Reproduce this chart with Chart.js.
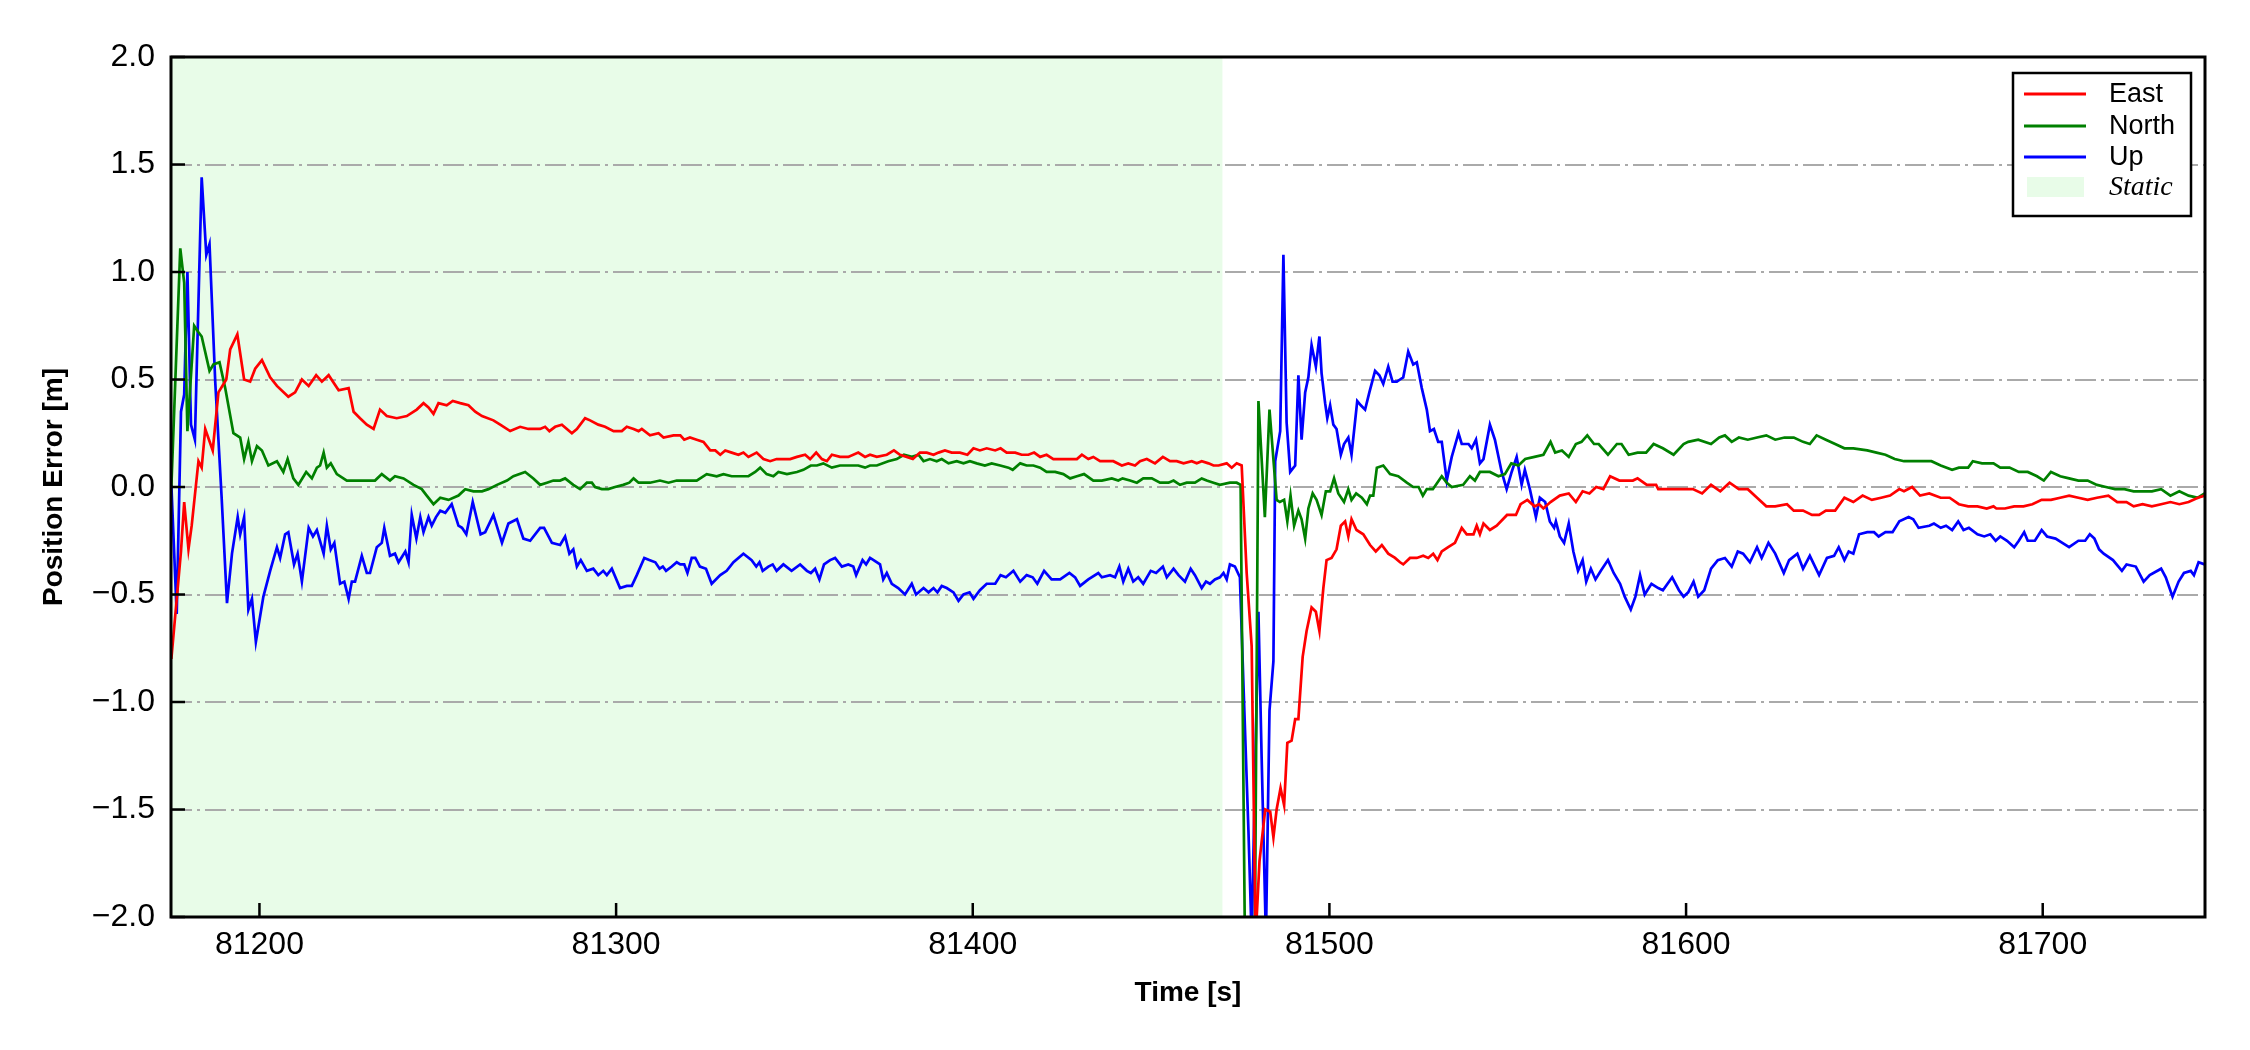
<!DOCTYPE html>
<html lang="en">
<head>
    <meta charset="UTF-8">
    <title>Position Error</title>
    <script src="https://cdn.jsdelivr.net/npm/chart.js"></script>
    <style>
        html, body { margin: 0; padding: 0; background: #fff; }
    </style>
</head>
<body>
    <canvas id="errChart" width="2250" height="1050"></canvas>

    <script>
        // axis setup
        const xTicks = [81200, 81300, 81400, 81500, 81600, 81700];
        const yTicks = [-2.0, -1.5, -1.0, -0.5, 0.0, 0.5, 1.0, 1.5, 2.0];
        const xRange = [81175.2, 81745.5];
        const staticSpan = [81175.2, 81470.0];
        const seriesNames = ['East', 'North', 'Up'];
        const seriesColors = ['#ff0000', '#008000', '#0000ff'];

        // [time s, error m]
        const eastPts = [
            [81175.3,-0.80],[81178.0,-0.30],[81178.9,-0.07],[81180.1,-0.29],[81181.0,-0.18],[81182.9,0.12],[81183.8,0.09],[81184.8,0.27],
            [81186.9,0.17],[81188.5,0.44],[81190.7,0.50],[81191.8,0.64],[81193.8,0.71],[81195.7,0.50],[81197.4,0.49],[81198.8,0.55],
            [81200.7,0.59],[81203.0,0.51],[81204.9,0.47],[81208.1,0.42],[81210.0,0.44],[81211.9,0.50],[81213.8,0.47],[81215.9,0.52],
            [81217.5,0.49],[81219.4,0.52],[81222.2,0.45],[81225.0,0.46],[81226.4,0.35],[81228.2,0.32],[81230.1,0.29],[81232.0,0.27],
            [81233.8,0.36],[81235.7,0.33],[81238.5,0.32],[81241.3,0.33],[81244.1,0.36],[81246.0,0.39],[81247.4,0.37],[81248.8,0.34],
            [81250.2,0.39],[81252.5,0.38],[81254.2,0.40],[81256.3,0.39],[81258.6,0.38],[81260.5,0.35],[81262.4,0.33],[81265.6,0.31],
            [81267.5,0.29],[81270.3,0.26],[81273.1,0.28],[81275.4,0.27],[81278.7,0.27],[81280.1,0.28],[81281.3,0.26],[81282.9,0.28],
            [81284.8,0.29],[81286.2,0.27],[81287.6,0.25],[81289.0,0.27],[81291.3,0.32],[81292.7,0.31],[81295.0,0.29],[81296.9,0.28],
            [81299.3,0.26],[81301.6,0.26],[81303.0,0.28],[81304.9,0.27],[81306.3,0.26],[81307.2,0.27],[81309.5,0.24],[81311.9,0.25],
            [81313.3,0.23],[81316.1,0.24],[81318.0,0.24],[81319.1,0.22],[81320.7,0.23],[81322.6,0.22],[81324.5,0.21],[81326.4,0.17],
            [81327.8,0.17],[81329.2,0.15],[81330.6,0.17],[81332.4,0.16],[81334.3,0.15],[81335.7,0.16],[81337.1,0.14],[81339.4,0.16],
            [81341.3,0.13],[81343.2,0.12],[81345.0,0.13],[81346.9,0.13],[81348.8,0.13],[81350.7,0.14],[81353.0,0.15],[81354.4,0.13],
            [81356.1,0.16],[81357.7,0.13],[81359.1,0.12],[81360.5,0.15],[81362.8,0.14],[81365.1,0.14],[81367.9,0.16],[81369.8,0.14],
            [81371.2,0.15],[81373.1,0.14],[81375.9,0.15],[81377.9,0.17],[81379.6,0.15],[81381.5,0.14],[81383.2,0.13],[81385.2,0.16],
            [81387.1,0.16],[81389.0,0.15],[81390.4,0.16],[81392.2,0.17],[81394.1,0.16],[81396.4,0.16],[81398.5,0.15],[81400.2,0.18],
            [81402.0,0.17],[81403.9,0.18],[81406.3,0.17],[81407.8,0.18],[81409.5,0.16],[81411.9,0.16],[81413.7,0.15],[81415.6,0.15],
            [81417.2,0.16],[81418.9,0.14],[81420.7,0.15],[81422.6,0.13],[81424.5,0.13],[81426.8,0.13],[81429.2,0.13],[81430.6,0.15],
            [81432.4,0.13],[81433.8,0.14],[81435.7,0.12],[81437.6,0.12],[81439.4,0.12],[81441.8,0.10],[81443.6,0.11],[81445.5,0.10],
            [81446.9,0.12],[81448.8,0.13],[81451.1,0.11],[81453.3,0.14],[81455.3,0.12],[81457.2,0.12],[81459.1,0.11],[81461.4,0.12],
            [81462.8,0.11],[81464.2,0.12],[81466.1,0.11],[81467.5,0.10],[81468.9,0.10],[81471.2,0.11],[81472.6,0.09],[81474.0,0.11],
            [81475.4,0.10],[81476.8,-0.40],[81478.2,-0.74],[81479.3,-2.10],[81480.4,-1.74],[81482.0,-1.50],[81483.4,-1.51],[81484.3,-1.63],
            [81485.2,-1.50],[81486.3,-1.40],[81487.3,-1.48],[81488.2,-1.19],[81489.4,-1.18],[81490.4,-1.08],[81491.3,-1.08],[81492.5,-0.79],
            [81493.6,-0.67],[81495.0,-0.56],[81496.2,-0.58],[81497.2,-0.67],[81498.3,-0.47],[81499.2,-0.34],[81500.6,-0.33],[81502.0,-0.29],
            [81503.2,-0.18],[81504.4,-0.16],[81505.3,-0.23],[81506.2,-0.15],[81507.6,-0.20],[81509.5,-0.22],[81511.4,-0.27],[81513.0,-0.30],
            [81514.7,-0.27],[81516.5,-0.31],[81518.4,-0.33],[81519.8,-0.35],[81520.7,-0.36],[81522.6,-0.33],[81524.5,-0.33],[81526.3,-0.32],
            [81527.7,-0.33],[81529.1,-0.31],[81530.3,-0.34],[81531.5,-0.30],[81533.3,-0.28],[81535.2,-0.26],[81537.1,-0.19],[81538.5,-0.22],
            [81540.4,-0.22],[81541.3,-0.18],[81542.2,-0.22],[81543.2,-0.17],[81545.0,-0.20],[81546.9,-0.18],[81549.8,-0.13],[81552.3,-0.13],
            [81553.6,-0.08],[81555.5,-0.06],[81557.5,-0.09],[81558.8,-0.08],[81560.0,-0.10],[81562.0,-0.07],[81564.6,-0.04],[81567.1,-0.03],
            [81569.1,-0.07],[81571.0,-0.02],[81572.9,-0.03],[81574.8,0.00],[81576.8,-0.01],[81578.7,0.05],[81581.3,0.03],[81583.2,0.03],
            [81585.1,0.03],[81586.4,0.04],[81589.0,0.01],[81591.6,0.01],[81592.2,-0.01],[81595.4,-0.01],[81599.3,-0.01],[81601.9,-0.01],
            [81604.5,-0.03],[81607.0,0.01],[81609.6,-0.02],[81612.2,0.02],[81614.8,-0.01],[81617.3,-0.01],[81619.9,-0.05],[81622.5,-0.09],
            [81625.0,-0.09],[81628.3,-0.08],[81630.2,-0.11],[81632.8,-0.11],[81635.3,-0.13],[81637.3,-0.13],[81639.2,-0.11],[81641.8,-0.11],
            [81644.4,-0.05],[81646.9,-0.07],[81649.5,-0.04],[81652.1,-0.06],[81654.7,-0.05],[81657.2,-0.04],[81659.8,-0.01],[81661.1,-0.02],
            [81663.4,0.00],[81665.6,-0.04],[81668.2,-0.03],[81671.4,-0.05],[81673.9,-0.05],[81676.5,-0.08],[81679.1,-0.09],[81681.7,-0.09],
            [81684.3,-0.10],[81686.2,-0.09],[81687.0,-0.10],[81689.4,-0.10],[81692.0,-0.09],[81694.6,-0.09],[81697.1,-0.08],[81699.7,-0.06],
            [81702.3,-0.06],[81704.9,-0.05],[81707.4,-0.04],[81710.0,-0.05],[81712.6,-0.06],[81715.2,-0.05],[81718.4,-0.04],[81720.9,-0.07],
            [81723.5,-0.07],[81725.5,-0.09],[81728.0,-0.08],[81730.6,-0.09],[81733.2,-0.08],[81735.8,-0.07],[81738.3,-0.08],[81740.9,-0.07],
            [81743.5,-0.05],[81745.4,-0.04]
        ];

        const northPts = [
            [81175.3,0.00],[81176.4,0.49],[81177.8,1.11],[81178.9,0.95],[81179.8,0.26],[81181.7,0.75],[81182.9,0.72],[81183.8,0.70],
            [81186.0,0.54],[81187.1,0.57],[81188.8,0.58],[81190.4,0.46],[81192.7,0.25],[81194.6,0.23],[81195.7,0.13],[81196.9,0.21],
            [81197.9,0.12],[81199.3,0.19],[81200.7,0.17],[81202.5,0.10],[81204.9,0.12],[81206.7,0.07],[81207.9,0.13],[81209.5,0.04],
            [81210.9,0.01],[81213.1,0.07],[81214.7,0.04],[81216.1,0.09],[81217.0,0.10],[81218.0,0.16],[81218.9,0.09],[81220.0,0.11],
            [81221.7,0.06],[81224.5,0.03],[81226.4,0.03],[81228.2,0.03],[81230.1,0.03],[81232.4,0.03],[81234.3,0.06],[81236.6,0.03],
            [81238.0,0.05],[81240.4,0.04],[81243.2,0.01],[81245.5,-0.01],[81246.9,-0.04],[81248.8,-0.08],[81250.7,-0.05],[81253.0,-0.06],
            [81255.8,-0.04],[81257.7,-0.01],[81260.0,-0.02],[81262.4,-0.02],[81264.2,-0.01],[81266.6,0.01],[81269.4,0.03],[81271.2,0.05],
            [81274.5,0.07],[81276.8,0.04],[81278.7,0.01],[81280.6,0.02],[81282.4,0.03],[81284.3,0.03],[81285.7,0.04],[81288.0,0.01],
            [81289.9,-0.01],[81291.8,0.02],[81293.2,0.02],[81294.1,0.00],[81296.0,-0.01],[81297.8,-0.01],[81299.7,0.00],[81302.0,0.01],
            [81303.7,0.02],[81304.9,0.04],[81306.3,0.02],[81309.5,0.02],[81312.3,0.03],[81314.7,0.02],[81317.0,0.03],[81319.8,0.03],
            [81322.6,0.03],[81325.4,0.06],[81328.2,0.05],[81330.1,0.06],[81332.4,0.05],[81334.8,0.05],[81337.1,0.05],[81339.0,0.07],
            [81340.4,0.09],[81342.2,0.06],[81344.1,0.05],[81345.5,0.07],[81347.9,0.06],[81350.7,0.07],[81352.5,0.08],[81354.6,0.10],
            [81356.3,0.10],[81358.1,0.11],[81360.5,0.09],[81362.8,0.10],[81365.6,0.10],[81367.9,0.10],[81369.8,0.09],[81371.2,0.10],
            [81373.1,0.10],[81376.3,0.12],[81378.7,0.13],[81380.7,0.15],[81382.9,0.14],[81384.8,0.15],[81386.2,0.12],[81388.0,0.13],
            [81389.9,0.12],[81391.3,0.13],[81393.2,0.11],[81395.5,0.12],[81397.4,0.11],[81399.2,0.12],[81401.1,0.11],[81403.4,0.10],
            [81405.3,0.11],[81407.7,0.10],[81410.0,0.09],[81411.2,0.08],[81413.3,0.11],[81415.1,0.10],[81417.0,0.10],[81418.9,0.09],
            [81420.7,0.07],[81423.1,0.07],[81425.4,0.06],[81427.3,0.04],[81429.2,0.05],[81431.2,0.06],[81433.8,0.03],[81436.2,0.03],
            [81439.0,0.04],[81440.8,0.03],[81442.0,0.04],[81444.1,0.03],[81446.0,0.02],[81447.8,0.04],[81450.2,0.04],[81452.5,0.02],
            [81454.9,0.02],[81456.3,0.03],[81458.1,0.01],[81460.0,0.02],[81462.3,0.02],[81464.2,0.04],[81465.6,0.03],[81467.5,0.02],
            [81469.3,0.01],[81472.1,0.02],[81474.0,0.02],[81475.1,0.01],[81476.3,-2.10],[81479.1,-2.10],[81480.1,0.40],[81481.9,-0.14],
            [81483.2,0.36],[81485.2,-0.06],[81486.1,-0.07],[81487.3,-0.06],[81488.2,-0.16],[81489.1,-0.04],[81490.1,-0.18],[81491.3,-0.11],
            [81492.2,-0.15],[81493.2,-0.24],[81494.1,-0.10],[81495.3,-0.03],[81496.4,-0.06],[81497.8,-0.13],[81499.0,-0.02],[81500.2,-0.02],
            [81501.3,0.04],[81502.5,-0.03],[81504.1,-0.07],[81505.3,-0.01],[81506.2,-0.06],[81507.5,-0.03],[81509.1,-0.05],[81510.5,-0.08],
            [81511.4,-0.04],[81512.3,-0.04],[81513.3,0.09],[81515.1,0.10],[81517.0,0.06],[81519.3,0.05],[81521.7,0.02],[81523.5,0.00],
            [81525.0,0.00],[81526.2,-0.04],[81527.3,-0.01],[81529.0,-0.01],[81531.5,0.05],[81532.9,0.02],[81534.3,0.00],[81537.5,0.01],
            [81539.4,0.05],[81540.8,0.03],[81542.2,0.07],[81545.0,0.07],[81547.4,0.05],[81549.2,0.06],[81551.0,0.11],[81553.0,0.10],
            [81554.9,0.13],[81557.5,0.14],[81560.0,0.15],[81562.0,0.21],[81563.3,0.16],[81565.2,0.17],[81567.1,0.14],[81569.1,0.20],
            [81570.7,0.21],[81572.3,0.24],[81574.2,0.20],[81575.5,0.20],[81578.1,0.15],[81580.6,0.20],[81581.9,0.20],[81583.9,0.15],
            [81586.4,0.16],[81588.8,0.16],[81590.9,0.20],[81593.5,0.18],[81596.5,0.15],[81599.3,0.20],[81600.6,0.21],[81603.4,0.22],
            [81607.0,0.20],[81609.3,0.23],[81610.9,0.24],[81612.8,0.21],[81614.8,0.23],[81617.3,0.22],[81619.9,0.23],[81622.5,0.24],
            [81625.0,0.22],[81627.6,0.23],[81630.2,0.23],[81632.8,0.21],[81634.7,0.20],[81636.6,0.24],[81639.2,0.22],[81641.8,0.20],
            [81644.4,0.18],[81646.9,0.18],[81650.8,0.17],[81653.4,0.16],[81655.9,0.15],[81658.5,0.13],[81661.1,0.12],[81663.7,0.12],
            [81666.2,0.12],[81668.8,0.12],[81671.4,0.10],[81674.6,0.08],[81676.5,0.09],[81679.1,0.09],[81680.4,0.12],[81683.0,0.11],
            [81686.2,0.11],[81688.1,0.09],[81690.7,0.09],[81693.3,0.07],[81695.8,0.07],[81698.4,0.05],[81700.3,0.03],[81702.3,0.07],
            [81704.9,0.05],[81707.4,0.04],[81710.0,0.03],[81712.6,0.03],[81715.2,0.01],[81717.7,0.00],[81720.3,-0.01],[81722.9,-0.01],
            [81725.5,-0.02],[81728.0,-0.02],[81730.6,-0.02],[81733.2,-0.01],[81735.8,-0.04],[81738.3,-0.02],[81740.9,-0.04],[81743.5,-0.05],
            [81745.4,-0.03]
        ];

        const upPts = [
            [81175.3,0.01],[81176.8,-0.59],[81178.0,0.35],[81178.9,0.43],[81179.8,1.00],[81180.8,0.29],[81181.9,0.22],[81183.8,1.44],
            [81185.1,1.08],[81186.0,1.13],[81187.6,0.49],[81189.4,-0.05],[81190.9,-0.54],[81192.3,-0.31],[81193.9,-0.14],[81194.6,-0.22],
            [81195.7,-0.14],[81196.9,-0.57],[81197.9,-0.52],[81199.0,-0.72],[81201.1,-0.51],[81203.0,-0.39],[81204.9,-0.28],[81205.8,-0.33],
            [81207.2,-0.22],[81208.1,-0.21],[81209.7,-0.36],[81210.7,-0.31],[81211.9,-0.44],[81213.8,-0.19],[81215.0,-0.23],[81216.1,-0.20],
            [81218.0,-0.31],[81218.9,-0.18],[81220.0,-0.29],[81221.0,-0.26],[81222.6,-0.45],[81223.8,-0.44],[81225.0,-0.52],[81225.9,-0.44],
            [81226.8,-0.44],[81228.7,-0.32],[81230.1,-0.40],[81231.0,-0.40],[81232.9,-0.28],[81234.3,-0.26],[81235.0,-0.19],[81236.6,-0.32],
            [81238.0,-0.31],[81239.0,-0.35],[81240.9,-0.30],[81241.8,-0.35],[81242.7,-0.13],[81244.0,-0.24],[81245.1,-0.14],[81246.0,-0.21],
            [81247.4,-0.14],[81248.3,-0.18],[81249.5,-0.14],[81250.7,-0.11],[81252.1,-0.12],[81253.9,-0.08],[81255.8,-0.18],[81256.8,-0.19],
            [81258.0,-0.22],[81259.8,-0.07],[81262.0,-0.22],[81263.3,-0.21],[81265.6,-0.13],[81268.0,-0.26],[81269.8,-0.17],[81272.2,-0.15],
            [81274.0,-0.24],[81275.9,-0.25],[81278.7,-0.19],[81279.8,-0.19],[81282.0,-0.26],[81284.3,-0.27],[81285.7,-0.23],[81286.9,-0.31],
            [81288.0,-0.29],[81289.0,-0.37],[81290.1,-0.34],[81291.8,-0.39],[81293.6,-0.38],[81295.0,-0.41],[81296.4,-0.39],[81297.4,-0.41],
            [81298.8,-0.38],[81301.1,-0.47],[81303.0,-0.46],[81304.4,-0.46],[81305.8,-0.41],[81307.9,-0.33],[81309.3,-0.34],[81311.0,-0.35],
            [81312.2,-0.38],[81313.1,-0.37],[81314.0,-0.39],[81315.6,-0.37],[81317.0,-0.35],[81318.0,-0.36],[81319.1,-0.36],[81320.0,-0.40],
            [81321.2,-0.33],[81322.2,-0.33],[81323.5,-0.37],[81325.2,-0.38],[81326.8,-0.45],[81329.2,-0.41],[81331.0,-0.39],[81332.9,-0.35],
            [81335.7,-0.31],[81338.0,-0.34],[81339.3,-0.37],[81340.2,-0.35],[81341.1,-0.39],[81342.7,-0.37],[81343.9,-0.36],[81345.0,-0.39],
            [81346.9,-0.36],[81349.2,-0.39],[81351.6,-0.36],[81353.5,-0.39],[81354.6,-0.40],[81355.8,-0.38],[81357.0,-0.43],[81358.3,-0.36],
            [81360.0,-0.34],[81361.4,-0.33],[81363.3,-0.37],[81365.1,-0.36],[81366.5,-0.37],[81367.3,-0.41],[81369.1,-0.34],[81370.1,-0.36],
            [81371.2,-0.33],[81372.2,-0.34],[81374.0,-0.36],[81374.9,-0.43],[81375.9,-0.40],[81377.3,-0.45],[81379.1,-0.47],[81381.0,-0.50],
            [81382.9,-0.45],[81384.1,-0.50],[81386.2,-0.47],[81387.6,-0.49],[81389.0,-0.47],[81390.1,-0.49],[81391.3,-0.46],[81392.7,-0.47],
            [81394.6,-0.49],[81396.0,-0.53],[81397.4,-0.50],[81399.1,-0.49],[81400.2,-0.52],[81402.0,-0.48],[81403.9,-0.45],[81406.3,-0.45],
            [81407.8,-0.41],[81409.3,-0.42],[81411.4,-0.39],[81413.3,-0.44],[81415.1,-0.41],[81416.8,-0.42],[81418.1,-0.45],[81420.0,-0.39],
            [81422.1,-0.43],[81424.5,-0.43],[81427.1,-0.40],[81428.7,-0.42],[81430.1,-0.46],[81432.4,-0.43],[81435.2,-0.40],[81436.2,-0.42],
            [81438.5,-0.41],[81439.9,-0.42],[81441.1,-0.37],[81442.2,-0.44],[81443.6,-0.38],[81445.0,-0.44],[81446.4,-0.42],[81447.8,-0.45],
            [81449.9,-0.39],[81451.4,-0.40],[81453.3,-0.37],[81454.4,-0.42],[81456.3,-0.38],[81457.7,-0.41],[81459.5,-0.44],[81461.1,-0.38],
            [81462.3,-0.41],[81464.2,-0.47],[81465.4,-0.44],[81466.5,-0.45],[81467.9,-0.43],[81469.3,-0.42],[81470.3,-0.40],[81471.2,-0.43],
            [81472.1,-0.36],[81473.5,-0.37],[81474.9,-0.42],[81475.9,-0.92],[81477.3,-1.60],[81478.2,-2.10],[81480.1,-0.58],[81481.0,-1.26],
            [81482.2,-2.10],[81483.2,-1.04],[81484.3,-0.81],[81484.8,0.12],[81486.2,0.26],[81487.1,1.08],[81488.0,0.30],[81489.0,0.07],
            [81490.4,0.10],[81491.3,0.52],[81492.2,0.22],[81493.2,0.44],[81494.1,0.51],[81495.0,0.66],[81496.2,0.56],[81497.2,0.70],
            [81497.8,0.53],[81498.8,0.39],[81499.4,0.32],[81500.2,0.38],[81501.1,0.29],[81502.0,0.27],[81503.2,0.15],[81504.1,0.20],
            [81505.3,0.23],[81506.2,0.15],[81507.8,0.40],[81508.8,0.38],[81510.0,0.36],[81511.2,0.44],[81512.8,0.54],[81514.0,0.52],
            [81515.1,0.48],[81516.5,0.56],[81517.7,0.49],[81518.9,0.49],[81519.8,0.50],[81520.7,0.51],[81522.1,0.63],[81523.5,0.57],
            [81524.5,0.58],[81525.9,0.46],[81527.3,0.36],[81528.2,0.26],[81529.3,0.27],[81530.5,0.21],[81531.5,0.21],[81532.9,0.03],
            [81534.3,0.14],[81536.2,0.25],[81537.1,0.20],[81539.0,0.20],[81539.9,0.18],[81541.1,0.22],[81542.2,0.11],[81543.2,0.13],
            [81545.0,0.29],[81546.4,0.22],[81548.3,0.07],[81549.7,-0.01],[81551.1,0.07],[81552.5,0.14],[81553.9,0.01],[81554.8,0.08],
            [81556.2,-0.01],[81557.9,-0.14],[81559.0,-0.05],[81560.5,-0.07],[81561.8,-0.16],[81563.0,-0.19],[81563.5,-0.16],[81564.6,-0.23],
            [81565.8,-0.26],[81567.1,-0.17],[81568.4,-0.30],[81569.7,-0.39],[81571.0,-0.34],[81572.0,-0.44],[81573.3,-0.38],[81574.6,-0.43],
            [81576.1,-0.39],[81578.1,-0.34],[81579.7,-0.40],[81581.5,-0.45],[81582.8,-0.51],[81584.5,-0.57],[81585.8,-0.51],[81587.1,-0.41],
            [81588.4,-0.50],[81590.3,-0.45],[81592.2,-0.47],[81593.5,-0.48],[81596.1,-0.42],[81598.0,-0.48],[81599.3,-0.51],[81600.6,-0.49],
            [81602.1,-0.44],[81603.4,-0.51],[81605.1,-0.48],[81607.0,-0.38],[81608.9,-0.34],[81610.9,-0.33],[81612.8,-0.37],[81614.5,-0.30],
            [81616.0,-0.31],[81617.9,-0.35],[81619.9,-0.28],[81621.2,-0.33],[81623.1,-0.26],[81625.0,-0.31],[81627.4,-0.40],[81628.9,-0.34],
            [81631.2,-0.31],[81632.8,-0.38],[81634.7,-0.32],[81637.3,-0.41],[81639.5,-0.33],[81641.5,-0.32],[81642.8,-0.28],[81644.4,-0.34],
            [81645.6,-0.30],[81646.9,-0.31],[81648.5,-0.22],[81650.8,-0.21],[81652.7,-0.21],[81654.0,-0.23],[81655.9,-0.21],[81657.9,-0.21],
            [81659.8,-0.16],[81662.4,-0.14],[81663.7,-0.15],[81665.2,-0.19],[81668.2,-0.18],[81669.5,-0.17],[81671.4,-0.19],[81672.9,-0.18],
            [81674.6,-0.20],[81676.3,-0.16],[81677.8,-0.20],[81679.3,-0.19],[81681.7,-0.22],[81683.6,-0.23],[81685.3,-0.22],[81686.8,-0.25],
            [81688.1,-0.23],[81690.0,-0.25],[81692.0,-0.28],[81693.3,-0.25],[81694.8,-0.21],[81695.8,-0.25],[81697.8,-0.25],[81699.7,-0.20],
            [81701.2,-0.23],[81703.6,-0.24],[81705.5,-0.26],[81707.4,-0.28],[81710.0,-0.25],[81711.9,-0.25],[81713.2,-0.22],[81714.5,-0.24],
            [81715.8,-0.29],[81717.1,-0.31],[81719.7,-0.34],[81722.2,-0.39],[81723.5,-0.36],[81726.1,-0.37],[81728.3,-0.44],[81730.0,-0.41],
            [81733.2,-0.38],[81734.5,-0.42],[81736.4,-0.51],[81738.1,-0.44],[81739.6,-0.40],[81741.5,-0.39],[81742.4,-0.41],[81743.7,-0.35],
            [81745.4,-0.36]
        ];

        const FONT = 'Liberation Sans';
        const seriesPts = [eastPts, northPts, upPts];

        // green band for the static period, drawn under the grid
        const staticShade = {
            id: 'staticShade',
            beforeDraw(chart) {
                const {ctx, chartArea: a, scales: {x}} = chart;
                const x0 = Math.max(a.left, x.getPixelForValue(staticSpan[0]));
                const x1 = Math.min(a.right, x.getPixelForValue(staticSpan[1]));
                ctx.save();
                ctx.fillStyle = '#e8fce8';
                ctx.fillRect(x0, a.top, x1 - x0, a.bottom - a.top);
                ctx.restore();
            }
        };

        // box frame, inward ticks and the boxed legend
        const frameAndLegend = {
            id: 'frameAndLegend',
            afterDraw(chart) {
                const {ctx, chartArea: a, scales: {x, y}} = chart;
                ctx.save();
                ctx.strokeStyle = '#000';
                ctx.lineWidth = 2.5;
                ctx.beginPath();
                xTicks.forEach(v => {
                    const px = x.getPixelForValue(v);
                    ctx.moveTo(px, a.bottom);
                    ctx.lineTo(px, a.bottom - 14);
                });
                yTicks.forEach(v => {
                    const py = y.getPixelForValue(v);
                    ctx.moveTo(a.left, py);
                    ctx.lineTo(a.left + 14, py);
                });
                ctx.stroke();
                ctx.lineWidth = 3;
                ctx.strokeRect(a.left, a.top, a.right - a.left, a.bottom - a.top);

                // legend
                const bw = 178, bh = 143;
                const bx = a.right - 14 - bw, by = a.top + 16;
                ctx.fillStyle = '#fff';
                ctx.fillRect(bx, by, bw, bh);
                ctx.lineWidth = 2.5;
                ctx.strokeRect(bx, by, bw, bh);
                const rows = [by + 21, by + 53, by + 84, by + 114];
                ctx.textBaseline = 'middle';
                ctx.textAlign = 'left';
                chart.data.datasets.forEach((ds, i) => {
                    ctx.strokeStyle = ds.borderColor;
                    ctx.lineWidth = 3;
                    ctx.beginPath();
                    ctx.moveTo(bx + 11, rows[i]);
                    ctx.lineTo(bx + 73, rows[i]);
                    ctx.stroke();
                    ctx.fillStyle = '#000';
                    ctx.font = '27px "' + FONT + '"';
                    ctx.fillText(ds.label, bx + 96, rows[i] + 1);
                });
                ctx.fillStyle = '#e8fce8';
                ctx.fillRect(bx + 14, rows[3] - 10, 57, 20);
                ctx.fillStyle = '#000';
                ctx.font = 'italic 28px "Liberation Serif"';
                ctx.fillText('Static', bx + 96, rows[3] + 1);
                ctx.restore();
            }
        };

        const fmtY = v => (v < 0 ? '\u2212' : '') + Math.abs(v).toFixed(1);

        new Chart(document.getElementById('errChart'), {
            type: 'line',
            data: {
                datasets: seriesNames.map((name, i) => ({
                    label: name,
                    data: seriesPts[i].map(p => ({x: p[0], y: p[1]})),
                    borderColor: seriesColors[i],
                    borderWidth: 2.7,
                    pointRadius: 0,
                    tension: 0,
                    fill: false,
                    clip: 0
                }))
            },
            options: {
                responsive: false,
                animation: false,
                devicePixelRatio: 1,
                layout: { padding: { left: 0, right: 45, top: 57, bottom: 0 } },
                plugins: {
                    legend: { display: false },
                    tooltip: { enabled: false }
                },
                scales: {
                    x: {
                        type: 'linear',
                        min: xRange[0],
                        max: xRange[1],
                        afterBuildTicks: s => { s.ticks = xTicks.map(v => ({value: v})); },
                        afterFit: s => { s.height = 133; },
                        grid: { display: false, drawTicks: false },
                        border: { display: false },
                        ticks: {
                            padding: 9,
                            color: '#000',
                            maxRotation: 0,
                            autoSkip: false,
                            font: { family: FONT, size: 32 },
                            callback: v => String(v)
                        },
                        title: {
                            display: true,
                            text: 'Time [s]',
                            color: '#000',
                            font: { family: FONT, size: 28, weight: 'bold' },
                            padding: { top: 0, bottom: 40 }
                        }
                    },
                    y: {
                        min: -2,
                        max: 2,
                        afterBuildTicks: s => { s.ticks = yTicks.map(v => ({value: v})); },
                        afterFit: s => { s.width = 171; },
                        grid: { color: '#aaaaaa', lineWidth: 2, drawTicks: false },
                        border: { display: false, dash: [21, 5, 3, 5] },
                        ticks: {
                            padding: 16,
                            color: '#000',
                            font: { family: FONT, size: 32 },
                            callback: v => fmtY(v)
                        },
                        title: {
                            display: true,
                            text: 'Position Error [m]',
                            color: '#000',
                            font: { family: FONT, size: 28, weight: 'bold' },
                            padding: { top: 37, bottom: 0 }
                        }
                    }
                }
            },
            plugins: [staticShade, frameAndLegend]
        });
    </script>
</body>
</html>
